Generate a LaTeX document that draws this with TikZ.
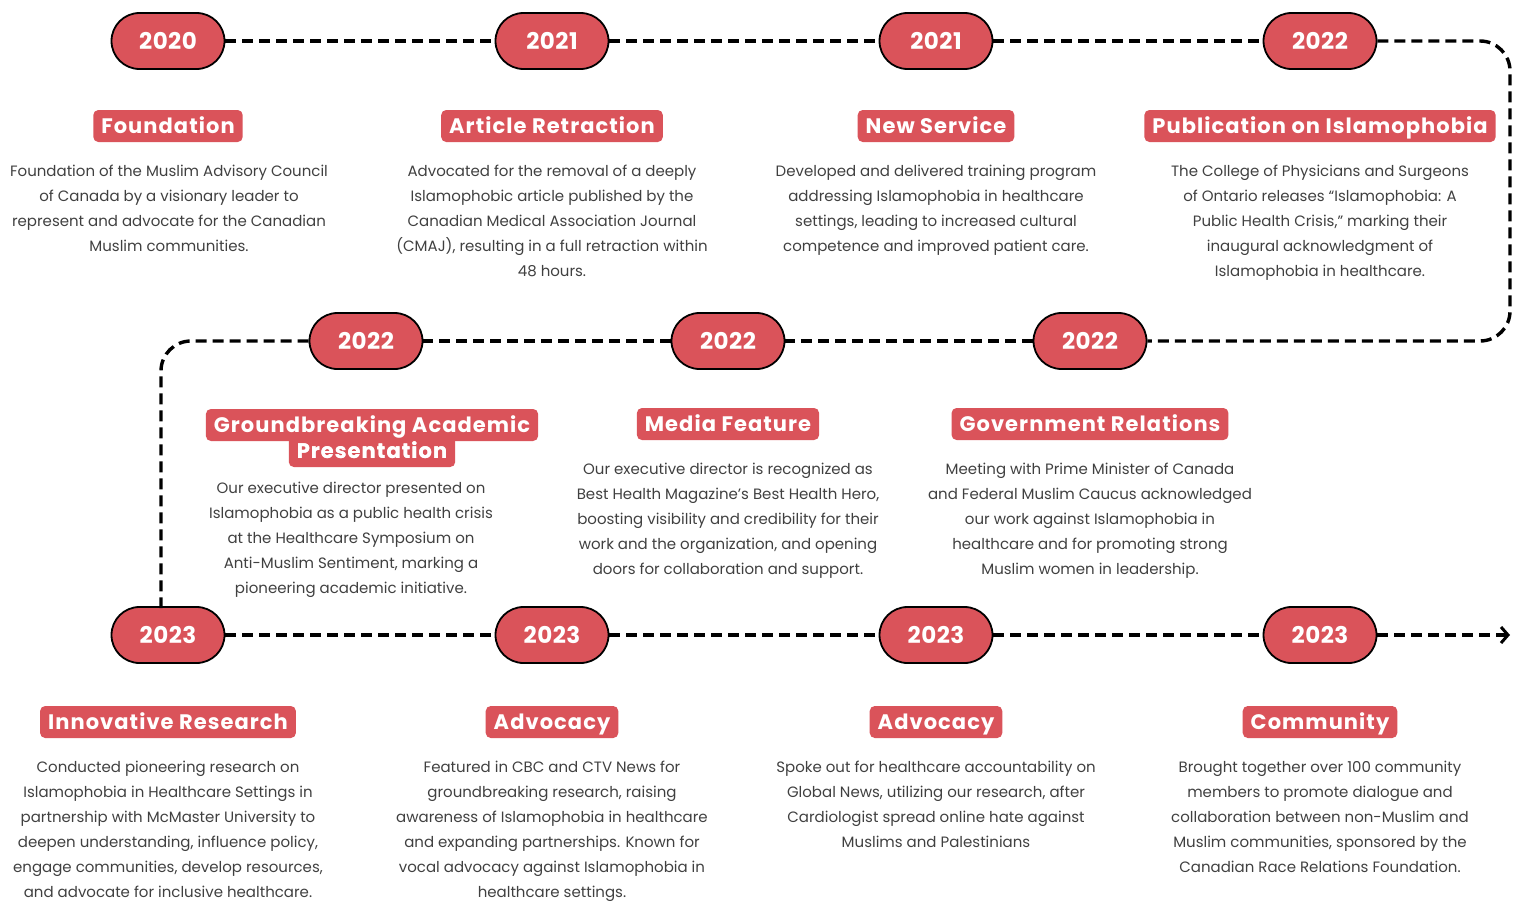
\documentclass[tikz,border=0pt]{standalone}
\usepackage{fontspec}
\setmainfont{Poppins}
\usetikzlibrary{arrows.meta}
\definecolor{tred}{HTML}{DA535A}
\definecolor{tgray}{HTML}{404040}
\tikzset{
  pill/.style={draw=black, line width=1.8pt, fill=tred, rounded corners=28pt,
    minimum width=113pt, minimum height=56pt, inner sep=0pt,
    text=white, font=\fontsize{23}{26}\selectfont\bfseries\addfontfeatures{LetterSpace=2}},
  ttl/.style={fill=tred, rounded corners=5pt, text=white, inner xsep=8pt,
    text height=17pt, text depth=3pt, minimum height=32pt, inner ysep=0pt,
    font=\fontsize{21}{23}\selectfont\bfseries\addfontfeatures{LetterSpace=5}},
  body/.style={anchor=north, align=center, inner sep=0pt, text=tgray,
    font=\fontsize{15}{25}\selectfont},
  tl/.style={draw=black, line width=3.4pt, dash pattern=on 11pt off 6pt},
}
\begin{document}
\begin{tikzpicture}[x=1pt,y=-1pt]
\useasboundingbox (0,0) rectangle (1525,905);
% pills
\node[pill] (y1) at (168,41) {2020};
\node[pill] (y2) at (552,41) {2021};
\node[pill] (y3) at (936,41) {2021};
\node[pill] (y4) at (1320,41) {2022};
\node[pill] (y5) at (366,341) {2022};
\node[pill] (y6) at (728,341) {2022};
\node[pill] (y7) at (1090,341) {2022};
\node[pill] (y8) at (168,635) {2023};
\node[pill] (y9) at (552,635) {2023};
\node[pill] (y10) at (936,635) {2023};
\node[pill] (y11) at (1320,635) {2023};
% corners
\coordinate (c1) at (1510,41);
\coordinate (c2) at (1510,341);
\coordinate (c3) at (161,341);
\coordinate (c4) at (161,608);
\coordinate (aend) at (1510,635);
% timeline
\draw[tl] (y1.east) -- (y2.west);
\draw[tl] (y2.east) -- (y3.west);
\draw[tl] (y3.east) -- (y4.west);
\draw[tl, rounded corners=30pt] (y4.east) -- (c1) -- (c2) -- (y7.east);
\draw[tl] (y7.west) -- (y6.east);
\draw[tl] (y6.west) -- (y5.east);
\draw[tl, rounded corners=30pt] (y5.west) -- (c3) -- (c4);
\draw[tl] (y8.east) -- (y9.west);
\draw[tl] (y9.east) -- (y10.west);
\draw[tl] (y10.east) -- (y11.west);
\draw[tl, -{Straight Barb[length=7pt,width=16pt,line width=3pt]}] (y11.east) -- (aend);
% titles
\node[ttl] (t1) at (168,126) {Foundation};
\node[ttl] (t2) at (552,126) {Article Retraction};
\node[ttl] (t3) at (936,126) {New Service};
\node[ttl] (t4) at (1320,126) {Publication on Islamophobia};
\node[ttl] (t5b) at (372,451) {Presentation};
\node[ttl] (t5a) at (372,425) {Groundbreaking Academic};
\node[ttl, fill=none] at (372,451) {Presentation};
\node[ttl] (t6) at (728,424) {Media Feature};
\node[ttl] (t7) at (1090,424) {Government Relations};
\node[ttl] (t8) at (168,722) {Innovative Research};
\node[ttl] (t9) at (552,722) {Advocacy};
\node[ttl] (t10) at (936,722) {Advocacy};
\node[ttl] (t11) at (1320,722) {Community};
% bodies
\node[body] (b1) at (169,165) {Foundation of the Muslim Advisory Council\\of Canada by a visionary leader to\\represent and advocate for the Canadian\\Muslim communities.};
\node[body] (b2) at (552,165) {Advocated for the removal of a deeply\\Islamophobic article published by the\\Canadian Medical Association Journal\\(CMAJ), resulting in a full retraction within\\48 hours.};
\node[body] (b3) at (936,165) {Developed and delivered training program\\addressing Islamophobia in healthcare\\settings, leading to increased cultural\\competence and improved patient care.};
\node[body] (b4) at (1320,165) {The College of Physicians and Surgeons\\of Ontario releases ``Islamophobia: A\\Public Health Crisis,'' marking their\\inaugural acknowledgment of\\Islamophobia in healthcare.};
\node[body] (b5) at (351,482) {Our executive director presented on\\Islamophobia as a public health crisis\\at the Healthcare Symposium on\\Anti-Muslim Sentiment, marking a\\pioneering academic initiative.};
\node[body] (b6) at (728,463) {Our executive director is recognized as\\Best Health Magazine's Best Health Hero,\\boosting visibility and credibility for their\\work and the organization, and opening\\doors for collaboration and support.};
\node[body] (b7) at (1090,463) {Meeting with Prime Minister of Canada\\and Federal Muslim Caucus acknowledged\\our work against Islamophobia in\\healthcare and for promoting strong\\Muslim women in leadership.};
\node[body] (b8) at (168,761) {Conducted pioneering research on\\Islamophobia in Healthcare Settings in\\partnership with McMaster University to\\deepen understanding, influence policy,\\engage communities, develop resources,\\and advocate for inclusive healthcare.};
\node[body] (b9) at (552,761) {Featured in CBC and CTV News for\\groundbreaking research, raising\\awareness of Islamophobia in healthcare\\and expanding partnerships. Known for\\vocal advocacy against Islamophobia in\\healthcare settings.};
\node[body] (b10) at (936,761) {Spoke out for healthcare accountability on\\Global News, utilizing our research, after\\Cardiologist spread online hate against\\Muslims and Palestinians};
\node[body] (b11) at (1320,761) {Brought together over 100 community\\members to promote dialogue and\\collaboration between non-Muslim and\\Muslim communities, sponsored by the\\Canadian Race Relations Foundation.};
\end{tikzpicture}
\end{document}
